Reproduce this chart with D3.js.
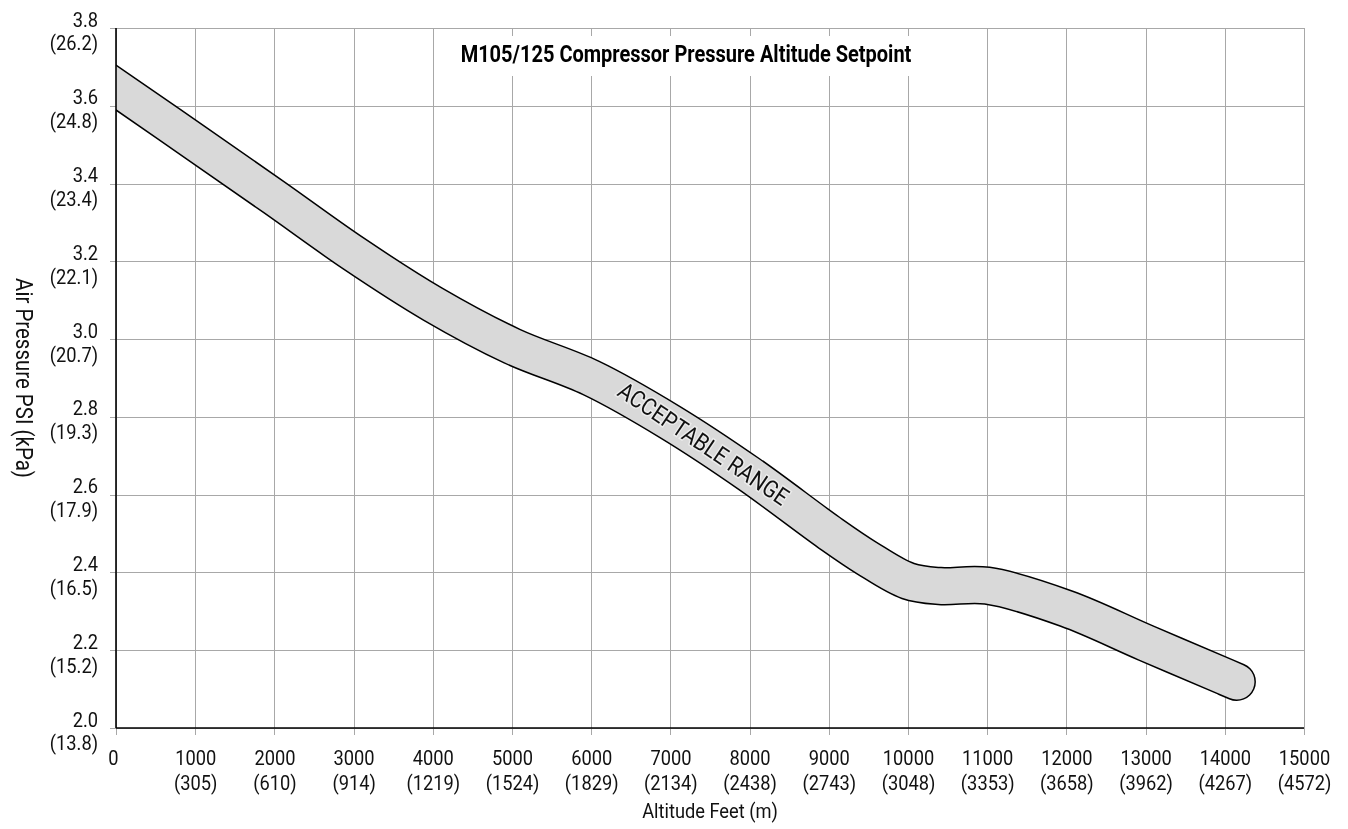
<!DOCTYPE html>
<html>
<head>
<meta charset="utf-8">
<script src="https://cdn.jsdelivr.net/npm/d3@7"></script>
<style>
  html, body { margin: 0; padding: 0; background: #fff; }
  svg { display: block; }
  text { font-family: "Liberation Sans Narrow", "Arial Narrow", "Roboto", sans-serif; fill: #111; }
</style>
</head>
<body>
<svg id="chart" width="1348" height="829"></svg>
<script>
// ---- data ----
const chartTitle = "M105/125 Compressor Pressure Altitude Setpoint";
const xTitle = "Altitude Feet (m)";
const yTitle = "Air Pressure PSI (kPa)";

const xTicks = [0, 1000, 2000, 3000, 4000, 5000, 6000, 7000, 8000, 9000, 10000, 11000, 12000, 13000, 14000, 15000];
const xTickMeters = ["", "305", "610", "914", "1219", "1524", "1829", "2134", "2438", "2743", "3048", "3353", "3658", "3962", "4267", "4572"];
const yTicks = [2.0, 2.2, 2.4, 2.6, 2.8, 3.0, 3.2, 3.4, 3.6, 3.8];
const yTickKpa = ["13.8", "15.2", "16.5", "17.9", "19.3", "20.7", "22.1", "23.4", "24.8", "26.2"];

// centre line of the acceptable-range band (altitude ft, psi)
const bandAltitude = [-500, 0, 1000, 2000, 3000, 4000, 5000, 6000, 7000, 8000, 9000, 9480, 10000, 10400, 11000, 12000, 13000, 14000, 14150];
const bandPressure = [3.717, 3.647, 3.506, 3.364, 3.220, 3.090, 2.982, 2.900, 2.786, 2.652, 2.503, 2.437, 2.378, 2.365, 2.366, 2.307, 2.219, 2.132, 2.119];

const bandLabel = "ACCEPTABLE RANGE";
const bandLabelPos = [7420, 2.732];

// ---- layout ----
const svg = d3.select("#chart");
const m = { left: 116, top: 28, right: 44, bottom: 101 };
const W = 1348 - m.left - m.right;   // 1188
const H = 829 - m.top - m.bottom;    // 700
const g = svg.append("g").attr("transform", `translate(${m.left},${m.top})`);

const x = d3.scaleLinear().domain([0, 15000]).range([0, W]);
const y = d3.scaleLinear().domain([2.0, 3.8]).range([H, 0]);

const gridColor = "#a8a8a8";
const narrow = 0.87;

// ---- x axis / vertical grid ----
const xAxis = g.append("g").attr("transform", `translate(0,${H})`)
  .call(d3.axisBottom(x).tickValues(xTicks).tickSizeInner(-H).tickSizeOuter(0).tickFormat(""));
xAxis.select(".domain").remove();
xAxis.selectAll(".tick line").attr("stroke", gridColor).attr("y1", 7).attr("shape-rendering", "crispEdges");
xAxis.selectAll(".tick").each(function(d, i) {
  const t = d3.select(this).append("text")
    .attr("transform", `translate(${i === 0 ? -3 : 0},0) scale(${narrow},1)`)
    .attr("text-anchor", "middle").attr("font-size", 21).style("fill", "#111");
  t.append("tspan").attr("x", 0).attr("y", 37).text(d);
  if (xTickMeters[i]) t.append("tspan").attr("x", 0).attr("y", 62).text("(" + xTickMeters[i] + ")");
});

// ---- y axis / horizontal grid ----
const yAxis = g.append("g")
  .call(d3.axisLeft(y).tickValues(yTicks).tickSizeInner(-W).tickSizeOuter(0).tickFormat(""));
yAxis.select(".domain").remove();
yAxis.selectAll(".tick line").attr("stroke", gridColor).attr("x1", -6).attr("shape-rendering", "crispEdges");
yAxis.selectAll(".tick").each(function(d, i) {
  const t = d3.select(this).append("text")
    .attr("transform", `translate(-18,0) scale(${narrow},1)`)
    .attr("text-anchor", "end").attr("font-size", 21).style("fill", "#111");
  t.append("tspan").attr("x", 0).attr("y", -2).text(d3.format(".1f")(d));
  t.append("tspan").attr("x", 0).attr("y", 22).text("(" + yTickKpa[i] + ")");
});

// ---- band ----
svg.append("defs").append("clipPath").attr("id", "plotClip")
  .append("rect").attr("x", 0).attr("y", -40).attr("width", W + 60).attr("height", H + 80);

const bandData = bandAltitude.map((a, i) => [a, bandPressure[i]]);
const line = d3.line().x(d => x(d[0])).y(d => y(d[1])).curve(d3.curveCatmullRom.alpha(0.5));

const band = g.append("g").attr("clip-path", "url(#plotClip)")
  .append("g").style("mix-blend-mode", "multiply").style("isolation", "isolate");
band.append("path").datum(bandData).attr("d", line)
  .attr("fill", "none").attr("stroke", "#000").attr("stroke-width", 38.5)
  .attr("stroke-linecap", "round").attr("stroke-linejoin", "round");
band.append("path").datum(bandData).attr("d", line)
  .attr("fill", "none").attr("stroke", "#d9d9d9").attr("stroke-width", 35.5)
  .attr("stroke-linecap", "round").attr("stroke-linejoin", "round");

// ---- axis lines ----
g.append("line").attr("x1", 0).attr("x2", 0).attr("y1", 0).attr("y2", H)
  .attr("stroke", "#000").attr("stroke-width", 1.6);
g.append("line").attr("x1", 0).attr("x2", W).attr("y1", H).attr("y2", H)
  .attr("stroke", "#000").attr("stroke-width", 1.6);

// ---- band label ----
g.append("text")
  .attr("transform", `translate(${x(bandLabelPos[0])},${y(bandLabelPos[1])}) rotate(34) scale(${narrow},1)`)
  .attr("text-anchor", "middle").attr("dy", "0.36em")
  .attr("font-size", 24)
  .style("paint-order", "stroke").style("stroke", "#ececec").style("stroke-width", 3)
  .style("fill", "#111")
  .text(bandLabel);

// ---- title ----
const titleG = g.append("g");
const titleX = x(7500) - 24, titleY = 62 - m.top;
const titleText = titleG.append("text")
  .attr("transform", `translate(${titleX},${titleY}) scale(${narrow},1)`)
  .attr("text-anchor", "middle").attr("font-size", 23).attr("font-weight", "bold")
  .style("fill", "#000")
  .text(chartTitle);
const tw = titleText.node().getBBox().width * narrow;
titleG.insert("rect", "text")
  .attr("x", titleX - tw / 2 - 14).attr("y", 36 - m.top).attr("width", tw + 28).attr("height", 40)
  .attr("fill", "#fff");

// ---- axis titles ----
svg.append("text")
  .attr("x", m.left + W / 2).attr("y", 818)
  .attr("transform", `translate(${m.left + W / 2},818) scale(${narrow},1)`)
  .attr("x", 0).attr("y", 0)
  .attr("text-anchor", "middle").attr("font-size", 21)
  .text(xTitle);
svg.append("text")
  .attr("transform", `translate(16,${m.top + H / 2}) rotate(90) scale(${narrow},1)`)
  .attr("text-anchor", "middle").attr("font-size", 23.5)
  .text(yTitle);
</script>
</body>
</html>
